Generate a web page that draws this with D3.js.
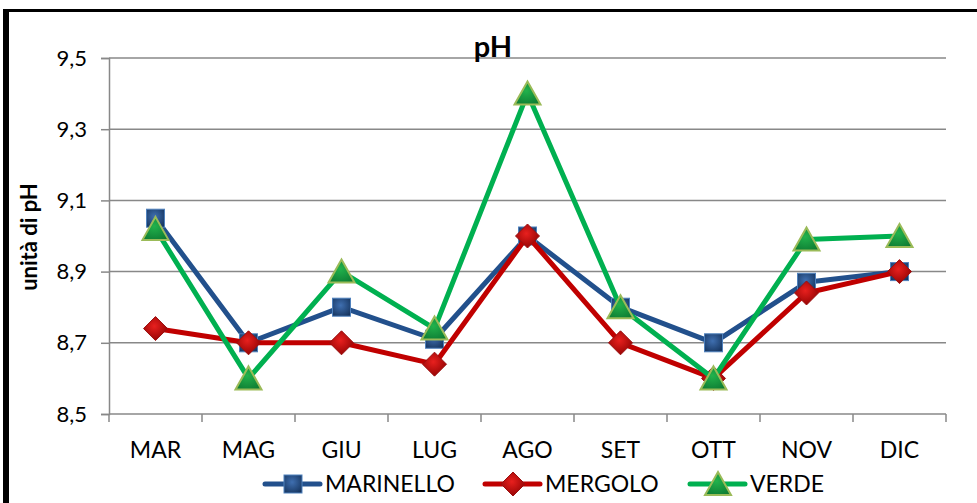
<!DOCTYPE html>
<html>
<head>
<meta charset="utf-8">
<script src="https://cdn.jsdelivr.net/npm/d3@7"></script>
<style>
  body { margin: 0; background: #fff; }
  text { font-family: Lato, "Open Sans", sans-serif; }
</style>
</head>
<body>
<div id="chart"></div>
<script>
// data
var months = ["MAR", "MAG", "GIU", "LUG", "AGO", "SET", "OTT", "NOV", "DIC"];
var marinello = [9.05, 8.70, 8.80, 8.71, 9.00, 8.80, 8.70, 8.87, 8.90];
var mergolo   = [8.74, 8.70, 8.70, 8.64, 9.00, 8.70, 8.60, 8.84, 8.90];
var verde     = [9.02, 8.60, 8.90, 8.74, 9.40, 8.80, 8.60, 8.99, 9.00];
var yTicks = [8.5, 8.7, 8.9, 9.1, 9.3, 9.5];

var series = [
  { name: "MARINELLO", values: marinello, color: "#22508C", marker: "square" },
  { name: "MERGOLO", values: mergolo, color: "#C00000", marker: "diamond" },
  { name: "VERDE", values: verde, color: "#00B050", marker: "triangle" }
];

var W = 977, H = 503;
var margin = { top: 58, right: 31, bottom: 89, left: 109 },
    width = W - margin.left - margin.right,
    height = H - margin.top - margin.bottom;

var root = d3.select("#chart").append("svg")
    .attr("width", W)
    .attr("height", H);

// gradients for the marker look
var defs = root.append("defs");
function grad(id, c1, c2) {
  var g = defs.append("radialGradient").attr("id", id)
      .attr("cx", "45%").attr("cy", "40%").attr("r", "70%");
  g.append("stop").attr("offset", "0%").attr("stop-color", c1);
  g.append("stop").attr("offset", "100%").attr("stop-color", c2);
}
grad("gSquare", "#3F6FB0", "#16355F");
grad("gDiamond", "#E8201E", "#8A0000");
grad("gTriangle", "#22B24C", "#0D7A32");

// outer frame (cut at right/bottom)
root.append("rect").attr("x", 3).attr("y", 9).attr("width", 6).attr("height", H).attr("fill", "#000");
root.append("rect").attr("x", 3).attr("y", 9).attr("width", W).attr("height", 3).attr("fill", "#000");

var svg = root.append("g")
    .attr("transform", "translate(" + margin.left + "," + margin.top + ")");

var x = d3.scaleBand().domain(months).range([0, width]);
var y = d3.scaleLinear().domain([8.5, 9.5]).range([height, 0]);

// gridlines
svg.selectAll(".grid")
    .data(yTicks.slice(1))
    .enter().append("line")
    .attr("x1", 0).attr("x2", width)
    .attr("y1", function(d) { return y(d); })
    .attr("y2", function(d) { return y(d); })
    .attr("stroke", "#888").attr("stroke-width", 1.5);

// y axis
var yAxis = svg.append("g")
    .call(d3.axisLeft(y).tickValues(yTicks).tickSize(8).tickPadding(14)
      .tickFormat(function(d) { return d3.format(".1f")(d).replace(".", ","); }));
yAxis.select(".domain").attr("stroke", "#888").attr("stroke-width", 1.5);
yAxis.selectAll(".tick line").attr("stroke", "#888").attr("stroke-width", 1.5);
yAxis.selectAll(".tick text")
    .attr("font-size", "22px").attr("fill", "#000")
    .attr("font-family", "Lato, sans-serif");

// x axis: ticks at band boundaries
var xAxis = svg.append("g").attr("transform", "translate(0," + height + ")");
xAxis.append("line").attr("x1", 0).attr("x2", width)
    .attr("stroke", "#888").attr("stroke-width", 1.5);
xAxis.selectAll(".bt")
    .data(months.concat(["end"]))
    .enter().append("line")
    .attr("x1", function(d, i) { return i * x.bandwidth(); })
    .attr("x2", function(d, i) { return i * x.bandwidth(); })
    .attr("y1", 0).attr("y2", 8)
    .attr("stroke", "#888").attr("stroke-width", 1.5);
xAxis.selectAll(".lbl")
    .data(months)
    .enter().append("text")
    .attr("x", function(d) { return x(d) + x.bandwidth() / 2; })
    .attr("y", 44)
    .attr("text-anchor", "middle")
    .attr("font-size", "23px")
    .text(function(d) { return d; });

// lines
var line = d3.line()
    .x(function(d, i) { return x(months[i]) + x.bandwidth() / 2; })
    .y(function(d) { return y(d); });

function drawMarker(g, type, cx, cy) {
  if (type === "square") {
    g.append("rect").attr("x", cx - 9).attr("y", cy - 9).attr("width", 18).attr("height", 18)
      .attr("fill", "url(#gSquare)").attr("stroke", "#4F81BD").attr("stroke-width", 1);
  } else if (type === "diamond") {
    g.append("path")
      .attr("d", "M" + cx + "," + (cy - 12) + "L" + (cx + 12) + "," + cy + "L" + cx + "," + (cy + 12) + "L" + (cx - 12) + "," + cy + "Z")
      .attr("fill", "url(#gDiamond)").attr("stroke", "#9A1010").attr("stroke-width", 1);
  } else {
    g.append("path")
      .attr("d", "M" + cx + "," + (cy - 12) + "L" + (cx + 13) + "," + (cy + 11) + "L" + (cx - 13) + "," + (cy + 11) + "Z")
      .attr("fill", "url(#gTriangle)").attr("stroke", "#9BBB59").attr("stroke-width", 2);
  }
}

series.forEach(function(s) {
  svg.append("path")
      .datum(s.values)
      .attr("fill", "none")
      .attr("stroke", s.color)
      .attr("stroke-width", 5)
      .attr("stroke-linejoin", "round")
      .attr("d", line);
  var mg = svg.append("g");
  s.values.forEach(function(v, i) {
    drawMarker(mg, s.marker, x(months[i]) + x.bandwidth() / 2, y(v));
  });
});

// title
root.append("text")
    .attr("x", 493).attr("y", 57)
    .attr("text-anchor", "middle")
    .attr("font-size", "29px").attr("font-weight", "bold")
    .text("pH");

// y title
root.append("text")
    .attr("transform", "translate(37,237) rotate(-90)")
    .attr("text-anchor", "middle")
    .attr("font-size", "22px").attr("font-weight", "bold")
    .text("unità di pH");

// legend
var legendX = [265, 485, 690];
series.forEach(function(s, i) {
  var lg = root.append("g").attr("transform", "translate(" + legendX[i] + ",484)");
  lg.append("line").attr("x1", 0).attr("x2", 55)
      .attr("stroke", s.color).attr("stroke-width", 5).attr("stroke-linecap", "round");
  drawMarker(lg, s.marker, 28, 0);
  lg.append("text").attr("x", 60).attr("y", 8)
      .attr("font-size", "23px")
      .text(s.name);
});
</script>
</body>
</html>
